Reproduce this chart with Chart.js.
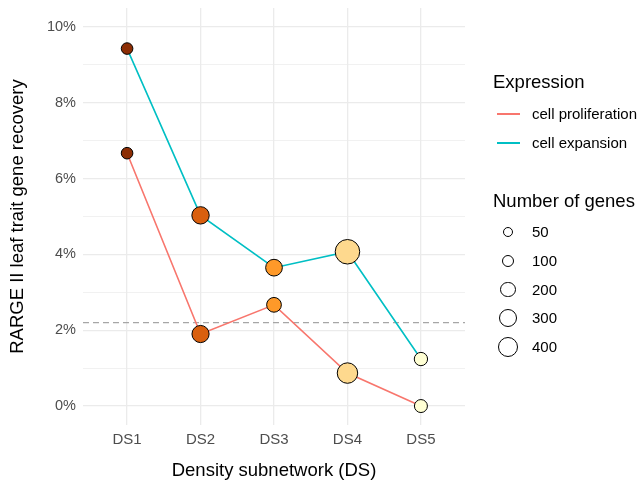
<!DOCTYPE html>
<html>
<head>
<meta charset="utf-8">
<script src="https://cdn.jsdelivr.net/npm/chart.js@4"></script>
<style>
  body { margin: 0; background: #fff; font-family: "Liberation Sans", Arial, sans-serif; }
  #wrap { position: relative; width: 643px; height: 491px; }
  .lg { position: absolute; color: #000; white-space: nowrap; }
  .lt { font-size: 18.5px; }
  .ll { font-size: 15px; }
  .key { position: absolute; height: 2px; width: 23px; }
  .dot { position: absolute; border: 1px solid #000; border-radius: 50%; box-sizing: border-box; }
</style>
</head>
<body>
<div id="wrap">
  <canvas id="chart" width="643" height="491"></canvas>
  <div id="legend"></div>
</div>
<script>
// values (percent)
var categories = ["DS1", "DS2", "DS3", "DS4", "DS5"];
var proliferation = [6.67, 1.90, 2.67, 0.87, 0.0];
var expansion = [9.43, 5.03, 3.65, 4.07, 1.24];
// number of genes (point size)
var genesProlif = [100, 300, 200, 470, 140];
var genesExpan = [100, 310, 280, 730, 150];
var sizeBreaks = [50, 100, 200, 300, 400];
var baseline = 2.2;
var yTicks = [0, 2, 4, 6, 8, 10];

var dsFill = ["#8C2D04", "#D95F0E", "#FE9929", "#FED98E", "#FFFFD4"];
var colProlif = "#F8766D";
var colExpan = "#00BFC4";

function radiusFor(n) {
  return 2.0 + 0.38 * Math.sqrt(n);
}

function toPoints(vals) {
  return vals.map(function(v, i) { return { x: i, y: v }; });
}

function makeSet(label, vals, genes, color) {
  return {
    label: label,
    data: toPoints(vals),
    borderColor: color,
    borderWidth: 1.6,
    pointBackgroundColor: dsFill,
    pointBorderColor: "#000",
    pointBorderWidth: 1,
    pointRadius: function(ctx) { return radiusFor(genes[ctx.dataIndex]); },
    pointHoverRadius: function(ctx) { return radiusFor(genes[ctx.dataIndex]); },
    tension: 0
  };
}

// dashed reference line across the panel
var baselinePlugin = {
  id: "baseline",
  beforeDatasetsDraw: function(chart) {
    var c = chart.ctx, a = chart.chartArea;
    var y = chart.scales.y.getPixelForValue(baseline);
    c.save();
    c.strokeStyle = "#A6A6A6";
    c.lineWidth = 1.2;
    c.setLineDash([6, 4]);
    c.beginPath();
    c.moveTo(a.left, y);
    c.lineTo(a.right, y);
    c.stroke();
    c.restore();
  }
};

var ctx = document.getElementById("chart");
var chart = new Chart(ctx, {
  type: "line",
  data: {
    datasets: [
      makeSet("cell proliferation", proliferation, genesProlif, colProlif),
      makeSet("cell expansion", expansion, genesExpan, colExpan)
    ]
  },
  plugins: [baselinePlugin],
  options: {
    responsive: false,
    animation: false,
    layout: { padding: { left: 0, right: 178, top: 8, bottom: 0 } },
    plugins: { legend: { display: false }, tooltip: { enabled: false } },
    scales: {
      x: {
        type: "linear",
        min: -0.6,
        max: 4.6,
        afterBuildTicks: function(s) {
          s.ticks = categories.map(function(c, i) { return { value: i }; });
        },
        afterFit: function(s) { s.height = 66; s.paddingLeft = 0; s.paddingRight = 0; },
        ticks: {
          callback: function(v) { return categories[v]; },
          color: "#4D4D4D",
          font: { family: "Liberation Sans", size: 15 },
          padding: 6,
          maxRotation: 0
        },
        grid: { color: "#EBEBEB", lineWidth: 1.3, drawTicks: false },
        border: { display: false },
        title: {
          display: true,
          text: "Density subnetwork (DS)",
          color: "#000",
          font: { family: "Liberation Sans", size: 18.5 },
          padding: { top: 0, bottom: 9 }
        }
      },
      y: {
        min: -0.5,
        max: 10.5,
        afterBuildTicks: function(s) {
          var t = [];
          for (var v = 0; v <= 10; v++) t.push({ value: v });
          s.ticks = t;
        },
        afterFit: function(s) { s.width = 83; s.paddingTop = 0; s.paddingBottom = 0; },
        ticks: {
          callback: function(v) { return yTicks.indexOf(v) >= 0 ? v + "%" : ""; },
          color: "#4D4D4D",
          font: { family: "Liberation Sans", size: 14.5 },
          padding: 7
        },
        grid: {
          color: "#EBEBEB",
          lineWidth: function(c) { return c.tick && c.tick.value % 2 === 0 ? 1.3 : 0.7; },
          drawTicks: false
        },
        border: { display: false },
        title: {
          display: true,
          text: "RARGE II leaf trait gene recovery",
          color: "#000",
          font: { family: "Liberation Sans", size: 18.5 },
          padding: { top: 7, bottom: 0 }
        }
      }
    }
  }
});

// legend (ggplot style, right side)
var lg = document.getElementById("legend");
var html = "";
html += '<div class="lg lt" style="left:493px;top:71px">Expression</div>';
html += '<div class="key" style="left:497px;top:113px;background:' + colProlif + '"></div>';
html += '<div class="lg ll" style="left:532px;top:105px">cell proliferation</div>';
html += '<div class="key" style="left:497px;top:142px;background:' + colExpan + '"></div>';
html += '<div class="lg ll" style="left:532px;top:134px">cell expansion</div>';
html += '<div class="lg lt" style="left:493px;top:190px">Number of genes</div>';
sizeBreaks.forEach(function(n, i) {
  var d = 2 * radiusFor(n) + 1;
  var cy = 232 + i * 28.8;
  html += '<div class="dot" style="left:' + (508 - d / 2) + 'px;top:' + (cy - d / 2) + 'px;width:' + d + 'px;height:' + d + 'px"></div>';
  html += '<div class="lg ll" style="left:532px;top:' + (cy - 9) + 'px">' + n + '</div>';
});
lg.innerHTML = html;
</script>
</body>
</html>
